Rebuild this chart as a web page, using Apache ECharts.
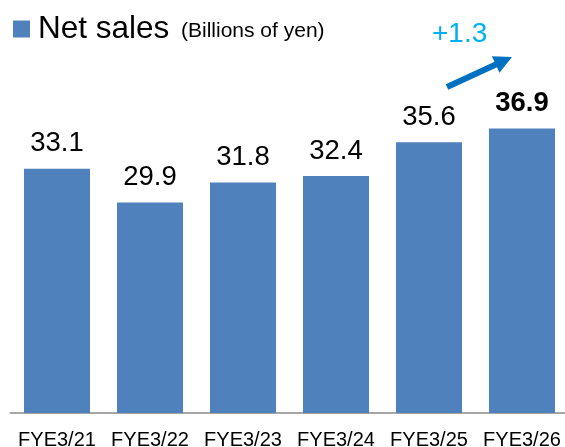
<!DOCTYPE html>
<html>
<head>
<meta charset="utf-8">
<script src="https://cdn.jsdelivr.net/npm/echarts@6/dist/echarts.min.js"></script>
<style>
html,body{margin:0;padding:0;background:#fff;}
#chart{width:565px;height:447px;}
</style>
</head>
<body>
<div id="chart"></div>
<script>
var categories = ['FYE3/21', 'FYE3/22', 'FYE3/23', 'FYE3/24', 'FYE3/25', 'FYE3/26'];
var netSales = [33.1, 29.9, 31.8, 32.4, 35.6, 36.9];
var seriesName = 'Net sales';
var unitText = '(Billions of yen)';
var changeText = '+1.3';

var FONT = '"Liberation Sans", Arial, sans-serif';
var chart = echarts.init(document.getElementById('chart'), null, {renderer: 'canvas'});

var data = netSales.map(function (v, i) {
  var item = {value: v};
  if (i === netSales.length - 1) {
    item.label = {fontWeight: 'bold'};
  }
  return item;
});

chart.setOption({
  animation: false,
  backgroundColor: '#ffffff',
  textStyle: {fontFamily: FONT},
  legend: {
    data: [seriesName],
    left: 8,
    top: 8,
    icon: 'rect',
    itemWidth: 17,
    itemHeight: 17,
    itemGap: 0,
    selectedMode: false,
    textStyle: {fontSize: 31.5, color: '#000', fontFamily: FONT, padding: [0, 0, 0, 3]}
  },
  title: {
    text: unitText,
    left: 181,
    top: 21,
    padding: 0,
    textStyle: {fontSize: 21, fontWeight: 'normal', color: '#000', fontFamily: FONT}
  },
  grid: {left: 10.5, right: -3.5, top: 60, bottom: 34, containLabel: false, outerBoundsMode: 'none'},
  xAxis: {
    type: 'category',
    data: categories,
    axisLine: {show: true, lineStyle: {color: '#A6A6A6', width: 2}},
    axisTick: {show: false},
    axisLabel: {fontSize: 20, color: '#000', margin: 17, fontFamily: FONT, interval: 0}
  },
  yAxis: {
    type: 'value',
    min: 10,
    max: 43.37,
    show: false,
    splitLine: {show: false}
  },
  series: [{
    name: seriesName,
    type: 'bar',
    data: data,
    barWidth: 66,
    itemStyle: {color: '#4F81BD'},
    label: {
      show: true,
      position: 'top',
      distance: 11,
      fontSize: 27.5,
      color: '#000',
      fontFamily: FONT
    }
  }],
  graphic: [
    {
      type: 'line',
      shape: {x1: 447, y1: 87, x2: 498, y2: 63.5},
      style: {stroke: '#0070C0', lineWidth: 6, lineCap: 'butt'}
    },
    {
      type: 'polygon',
      shape: {points: [[512, 57], [499.5, 72.7], [491.9, 56.3]]},
      style: {fill: '#0070C0'}
    },
    {
      type: 'text',
      left: 432,
      top: 20,
      style: {text: changeText, fill: '#00B0F0', font: '28px ' + FONT}
    }
  ]
});
</script>
</body>
</html>
